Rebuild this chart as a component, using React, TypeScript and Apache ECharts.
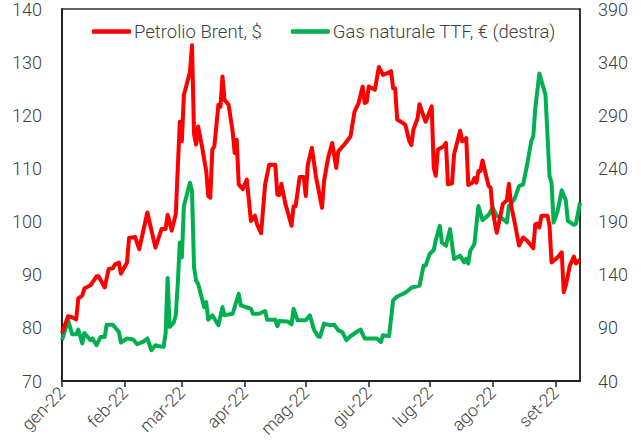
import React, { useEffect, useRef } from "react";
import * as echarts from "echarts";

const brentDates = [
  "2022-01-01","2022-01-04","2022-01-06","2022-01-08","2022-01-09","2022-01-11","2022-01-12","2022-01-15","2022-01-18","2022-01-19",
  "2022-01-22","2022-01-24","2022-01-26","2022-01-27","2022-01-29","2022-01-30","2022-02-02","2022-02-03","2022-02-06","2022-02-08",
  "2022-02-12","2022-02-16","2022-02-19","2022-02-21","2022-02-22","2022-02-24","2022-02-26","2022-02-28","2022-03-01","2022-03-02",
  "2022-03-05","2022-03-06","2022-03-07","2022-03-08","2022-03-09","2022-03-11","2022-03-13","2022-03-14","2022-03-15","2022-03-16",
  "2022-03-17","2022-03-19","2022-03-20","2022-03-21","2022-03-22","2022-03-24","2022-03-26","2022-03-27","2022-03-28","2022-03-29",
  "2022-03-31","2022-04-02","2022-04-04","2022-04-06","2022-04-07","2022-04-09","2022-04-11","2022-04-13","2022-04-16","2022-04-17",
  "2022-04-18","2022-04-19","2022-04-21","2022-04-24","2022-04-25","2022-04-26","2022-04-28","2022-04-30","2022-05-01","2022-05-02",
  "2022-05-04","2022-05-06","2022-05-09","2022-05-10","2022-05-12","2022-05-14","2022-05-16","2022-05-17","2022-05-20","2022-05-23",
  "2022-05-25","2022-05-27","2022-05-29","2022-05-30","2022-05-31","2022-06-01","2022-06-04","2022-06-06","2022-06-08","2022-06-10",
  "2022-06-12","2022-06-13","2022-06-14","2022-06-15","2022-06-18","2022-06-19","2022-06-21","2022-06-22","2022-06-23","2022-06-25",
  "2022-06-26","2022-06-28","2022-06-29","2022-07-02","2022-07-03","2022-07-04","2022-07-05","2022-07-08","2022-07-09","2022-07-10",
  "2022-07-12","2022-07-13","2022-07-16","2022-07-17","2022-07-19","2022-07-20","2022-07-22","2022-07-23","2022-07-24","2022-07-25",
  "2022-07-26","2022-07-27","2022-07-30","2022-07-31","2022-08-01","2022-08-03","2022-08-05","2022-08-06","2022-08-08","2022-08-09",
  "2022-08-10","2022-08-12","2022-08-14","2022-08-16","2022-08-18","2022-08-21","2022-08-22","2022-08-23","2022-08-24","2022-08-25",
  "2022-08-28","2022-08-29","2022-08-30","2022-09-02","2022-09-04","2022-09-05","2022-09-06","2022-09-08","2022-09-10","2022-09-11",
  "2022-09-13"
];
const brentValues = [
  79.0,82.2,82.0,81.6,85.5,86.1,87.4,88.0,89.7,89.7,
  87.6,91.1,91.2,91.9,92.3,90.2,92.3,96.9,97.1,94.8,
  101.7,95.1,98.6,98.6,101.3,98.3,101.4,118.8,115.1,123.8,
  128.2,133.2,116.4,114.5,117.9,113.9,109.5,104.8,104.5,113.5,
  114.2,122.0,121.6,127.3,122.9,122.0,117.0,112.9,115.4,107.0,
  106.1,107.9,100.1,101.1,99.5,97.8,107.0,110.7,110.7,105.1,
  105.0,107.1,103.3,99.2,102.9,102.9,108.4,108.4,104.8,110.7,
  113.9,108.5,102.6,107.6,112.0,114.8,110.1,113.2,114.5,116.0,
  120.7,122.3,125.4,122.3,122.5,125.4,124.8,129.1,127.6,127.9,
  128.3,125.1,125.1,119.2,118.5,118.2,115.1,114.4,117.3,119.4,
  122.1,119.8,118.8,121.7,110.1,108.6,113.5,114.2,114.8,107.0,
  107.2,112.6,117.1,115.1,115.7,106.9,107.3,108.2,107.3,109.5,
  109.5,111.5,106.7,106.4,102.0,97.9,101.4,103.3,104.0,107.1,
  103.3,99.5,95.5,97.0,96.4,95.0,99.5,99.6,98.9,101.1,
  101.1,99.2,92.3,93.3,94.2,86.7,88.0,91.7,93.4,92.1,
  92.8
];

const gasDates = [
  "2022-01-01","2022-01-04","2022-01-06","2022-01-08","2022-01-09","2022-01-11","2022-01-12","2022-01-15","2022-01-16","2022-01-18",
  "2022-01-20","2022-01-22","2022-01-23","2022-01-26","2022-01-29","2022-01-30","2022-02-02","2022-02-05","2022-02-07","2022-02-10",
  "2022-02-12","2022-02-14","2022-02-16","2022-02-17","2022-02-20","2022-02-21","2022-02-22","2022-02-23","2022-02-25","2022-02-26",
  "2022-02-27","2022-02-28","2022-03-01","2022-03-02","2022-03-05","2022-03-06","2022-03-07","2022-03-08","2022-03-09","2022-03-12",
  "2022-03-13","2022-03-14","2022-03-16","2022-03-19","2022-03-21","2022-03-22","2022-03-26","2022-03-27","2022-03-29","2022-03-30",
  "2022-04-04","2022-04-05","2022-04-08","2022-04-11","2022-04-12","2022-04-16","2022-04-17","2022-04-18","2022-04-22","2022-04-24",
  "2022-04-25","2022-04-27","2022-05-01","2022-05-03","2022-05-05","2022-05-07","2022-05-08","2022-05-10","2022-05-13","2022-05-15",
  "2022-05-17","2022-05-19","2022-05-21","2022-05-23","2022-05-26","2022-05-28","2022-05-30","2022-06-02","2022-06-05","2022-06-07",
  "2022-06-08","2022-06-11","2022-06-13","2022-06-15","2022-06-18","2022-06-20","2022-06-22","2022-06-26","2022-06-28","2022-06-29",
  "2022-07-01","2022-07-03","2022-07-04","2022-07-06","2022-07-07","2022-07-09","2022-07-11","2022-07-13","2022-07-16","2022-07-18",
  "2022-07-19","2022-07-20","2022-07-21","2022-07-23","2022-07-25","2022-07-27","2022-07-30","2022-08-01","2022-08-03","2022-08-05",
  "2022-08-08","2022-08-09","2022-08-10","2022-08-12","2022-08-14","2022-08-16","2022-08-18","2022-08-20","2022-08-21","2022-08-22",
  "2022-08-24","2022-08-27","2022-08-29","2022-08-30","2022-08-31","2022-09-02","2022-09-04","2022-09-06","2022-09-07","2022-09-10",
  "2022-09-11","2022-09-13"
];
const gasValues = [
  78.4,97.1,84.0,84.0,88.4,75.3,85.2,78.4,80.0,73.7,
  81.5,81.5,93.0,93.0,86.1,76.2,80.0,79.0,74.6,77.0,
  80.0,69.0,73.7,73.0,72.1,84.6,137.0,90.8,95.0,101.8,
  131.4,170.4,156.3,204.7,226.5,218.7,147.0,134.5,131.4,109.5,
  114.2,97.7,101.8,92.4,109.5,101.8,103.3,109.5,122.1,111.1,
  108.0,103.3,103.3,105.8,97.7,97.7,91.5,96.4,96.0,93.3,
  108.0,97.1,97.1,101.8,88.4,82.1,81.5,94.0,92.4,93.0,
  87.7,86.0,78.4,82.1,86.1,88.4,80.0,80.0,80.0,76.8,
  83.0,82.1,115.8,119.5,122.1,124.5,127.7,129.8,148.6,148.6,
  159.5,163.2,172.6,186.0,170.4,167.3,182.9,154.8,157.9,151.6,
  155.0,150.7,162.6,168.9,204.7,191.3,196.3,203.1,195.3,194.0,
  189.1,204.7,206.3,212.5,223.4,225.0,243.7,265.5,270.2,296.7,
  329.4,309.2,232.8,226.5,189.1,200.0,219.4,210.0,190.7,186.9,
  188.0,207.8
];

const monthNames = ["gen", "feb", "mar", "apr", "mag", "giu", "lug", "ago", "set"];
const monthLengths = [31, 28, 31, 30, 31, 30, 31, 31, 30];
const lastDay = "2022-09-13";
const leftTicks = { min: 70, max: 140, interval: 10 };
const rightTicks = { min: 40, max: 390, interval: 50 };
const brentName = "Petrolio Brent, $";
const gasName = "Gas naturale TTF, € (destra)";

function buildDays(): string[] {
  const out: string[] = [];
  for (let m = 0; m < monthLengths.length; m++) {
    for (let d = 1; d <= monthLengths[m]; d++) {
      const s = `2022-${String(m + 1).padStart(2, "0")}-${String(d).padStart(2, "0")}`;
      out.push(s);
      if (s === lastDay) return out;
    }
  }
  return out;
}

export default function App() {
  const ref = useRef<HTMLDivElement>(null);
  useEffect(() => {
    document.body.style.margin = "0";
    if (!ref.current) return;
    const chart = echarts.init(ref.current, null, { renderer: "svg" });
    const days = buildDays();
    const isMonthStart = (_i: number, v: string) => v.endsWith("-01");
    const font = "Roboto";
    const textColor = "#404040";
    chart.setOption({
      animation: false,
      backgroundColor: "#ffffff",
      textStyle: { fontFamily: font },
      grid: {
        left: 62, right: 61, top: 7, bottom: 63,
        show: true, borderColor: "#333", borderWidth: 1.5, backgroundColor: "transparent",
      },
      legend: {
        data: [brentName, gasName],
        left: 87, top: 17,
        icon: "roundRect",
        itemWidth: 39, itemHeight: 4.5,
        itemGap: 29,
        textStyle: { fontFamily: font, fontSize: 18.5, fontWeight: 300, color: textColor, padding: [0, 0, 0, -2] },
      },
      xAxis: {
        type: "category",
        data: days,
        boundaryGap: false,
        axisLine: { show: true, lineStyle: { color: "#222", width: 2 } },
        axisTick: { show: true, interval: isMonthStart, length: 6, lineStyle: { color: "#222", width: 1.5 } },
        axisLabel: {
          interval: isMonthStart,
          rotate: 45,
          margin: 9,
          fontSize: 17.5,
          fontWeight: 300,
          fontFamily: font,
          color: textColor,
          formatter: (v: string) => `${monthNames[parseInt(v.slice(5, 7), 10) - 1]}-22`,
        },
        splitLine: { show: false },
      },
      yAxis: [
        {
          type: "value",
          min: leftTicks.min, max: leftTicks.max, interval: leftTicks.interval,
          axisLine: { show: true, lineStyle: { color: "#222", width: 2 } },
          axisTick: { show: false },
          splitLine: { show: false },
          axisLabel: { fontSize: 18, fontWeight: 300, fontFamily: font, color: textColor, margin: 20 },
        },
        {
          type: "value",
          position: "right",
          min: rightTicks.min, max: rightTicks.max, interval: rightTicks.interval,
          axisLine: { show: true, lineStyle: { color: "#222", width: 1.5 } },
          axisTick: { show: false },
          splitLine: { show: false },
          axisLabel: { fontSize: 18, fontWeight: 300, fontFamily: font, color: textColor, margin: 18 },
        },
      ],
      series: [
        {
          name: gasName,
          type: "line",
          yAxisIndex: 1,
          data: gasDates.map((d, i) => [d, gasValues[i]]),
          showSymbol: false,
          symbol: "none",
          lineStyle: { color: "#00b050", width: 4, join: "round" },
          itemStyle: { color: "#00b050" },
        },
        {
          name: brentName,
          type: "line",
          yAxisIndex: 0,
          data: brentDates.map((d, i) => [d, brentValues[i]]),
          showSymbol: false,
          symbol: "none",
          lineStyle: { color: "#ff0000", width: 4, join: "round" },
          itemStyle: { color: "#ff0000" },
        },
      ],
    });
    return () => chart.dispose();
  }, []);
  return <div ref={ref} style={{ width: 641, height: 444 }} />;
}
